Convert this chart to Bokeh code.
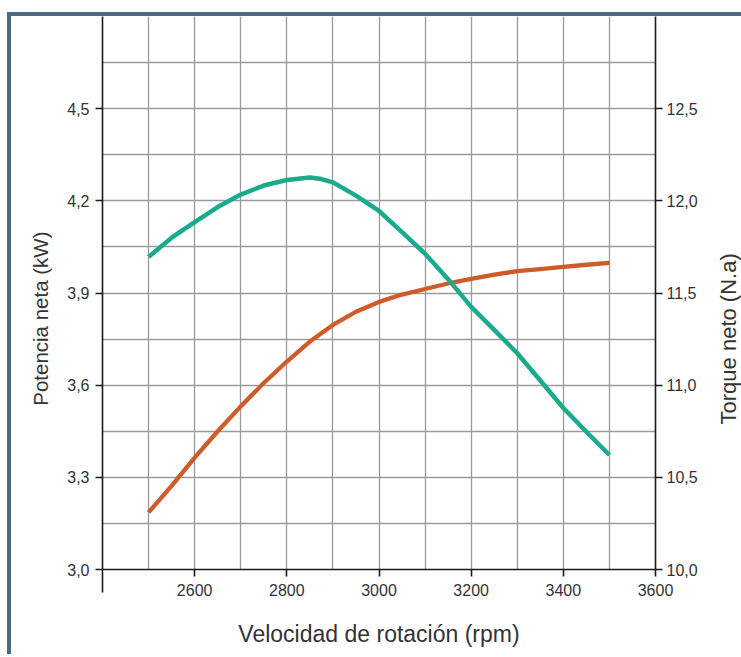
from bokeh.plotting import figure
from bokeh.models import Range1d, LinearAxis, FixedTicker, CustomJSTickFormatter, Row
from bokeh.embed import file_html
from bokeh.resources import INLINE

# ---- data ----
rpm_power = [2500, 2550, 2600, 2650, 2700, 2750, 2800, 2850, 2900, 2950, 3000, 3050, 3100,
             3150, 3200, 3250, 3300, 3350, 3400, 3450, 3500]
power_kw = [3.186, 3.272, 3.364, 3.45, 3.531, 3.607, 3.677, 3.742, 3.796, 3.839, 3.871, 3.895, 3.913,
            3.931, 3.946, 3.96, 3.971, 3.978, 3.985, 3.992, 3.998]

rpm_torque = [2500, 2550, 2600, 2650, 2700, 2750, 2800, 2850, 2875, 2900, 2950, 3000, 3050, 3100,
              3150, 3200, 3250, 3300, 3350, 3400, 3450, 3500]
torque_na = [11.696, 11.80, 11.885, 11.966, 12.034, 12.083, 12.113, 12.127, 12.118, 12.10, 12.028,
             11.945, 11.83, 11.713, 11.575, 11.425, 11.30, 11.173, 11.025, 10.876, 10.747, 10.621]

x_ticks = [2600, 2800, 3000, 3200, 3400, 3600]
x_grid = [2500, 2600, 2700, 2800, 2900, 3000, 3100, 3200, 3300, 3400, 3500]
left_ticks = [3.0, 3.3, 3.6, 3.9, 4.2, 4.5]
left_grid = [3.15, 3.3, 3.45, 3.6, 3.75, 3.9, 4.05, 4.2, 4.35, 4.5, 4.65]
right_ticks = [10.0, 10.5, 11.0, 11.5, 12.0, 12.5]

FONT = "Liberation Sans"
TXT = "#333333"
TEAL = "#19ab8c"
ORANGE = "#cf5a2a"
BORDER = "#4b6a82"
H = 638
TOP, BOTTOM = 0, 85
NBSP = "\u00a0"

p = figure(width=648, height=H, x_range=Range1d(2400, 3600), y_range=Range1d(3.0, 4.8),
           output_backend="svg", toolbar_location=None,
           min_border_left=50, min_border_right=43, min_border_top=TOP, min_border_bottom=BOTTOM)
p.extra_y_ranges = {"torque": Range1d(10.0, 13.0)}
p.outline_line_color = None
p.background_fill_color = "white"
p.border_fill_color = "white"

fmt = CustomJSTickFormatter(code="return tick.toFixed(1).replace('.', ',');")

# grids
p.xgrid.ticker = FixedTicker(ticks=x_grid)
p.ygrid.ticker = FixedTicker(ticks=left_grid)
for g in (p.xgrid, p.ygrid):
    g.grid_line_color = "#9a9a9a"
    g.grid_line_width = 1.3

def style_axis(ax):
    ax.axis_line_color = "#1a1a1a"
    ax.axis_line_width = 1.6
    ax.major_tick_line_color = "#1a1a1a"
    ax.major_tick_line_width = 1.6
    ax.minor_tick_line_color = "#1a1a1a"
    ax.minor_tick_line_width = 1.6
    ax.major_tick_in = 0
    ax.major_tick_out = 7
    ax.minor_tick_in = 0
    ax.minor_tick_out = 0
    ax.major_label_text_font = FONT
    ax.major_label_text_font_size = "16px"
    ax.major_label_text_color = TXT
    ax.axis_label_text_font = FONT
    ax.axis_label_text_font_size = "23px"
    ax.axis_label_text_font_style = "normal"
    ax.axis_label_text_color = TXT

xa = p.xaxis[0]
style_axis(xa)
xa.ticker = FixedTicker(ticks=x_ticks, minor_ticks=[2400])
xa.minor_tick_out = 23
xa.axis_label = "Velocidad de rotación (rpm)"
xa.major_label_standoff = -9
xa.axis_label_standoff = 22

ya = p.yaxis[0]
style_axis(ya)
ya.ticker = FixedTicker(ticks=left_ticks)
ya.formatter = fmt
ya.major_label_standoff = 6

ra = LinearAxis(y_range_name="torque")
style_axis(ra)
ra.ticker = FixedTicker(ticks=right_ticks)
ra.formatter = fmt
ra.major_label_standoff = 4
p.add_layout(ra, "right")

p.line(rpm_power, power_kw, line_color=ORANGE, line_width=4.3, line_join="round")
p.line(rpm_torque, torque_na, line_color=TEAL, line_width=4.5, line_join="round",
       y_range_name="torque")


def title_strip(text, width, size):
    """Narrow figure whose left-axis title reads bottom-to-top."""
    f = figure(width=width, height=H, x_range=Range1d(0, 1), y_range=Range1d(0, 1),
               output_backend="svg", toolbar_location=None,
               min_border_left=width - 1, min_border_right=0,
               min_border_top=TOP, min_border_bottom=BOTTOM)
    f.outline_line_color = None
    f.border_fill_color = "white"
    f.background_fill_color = "white"
    f.xaxis.visible = False
    f.grid.visible = False
    ax = f.yaxis[0]
    ax.ticker = FixedTicker(ticks=[])
    ax.axis_line_color = None
    ax.major_tick_line_color = None
    ax.minor_tick_line_color = None
    ax.major_label_text_font_size = "0px"
    ax.axis_label = text
    ax.axis_label_standoff = 0
    ax.axis_label_text_font = FONT
    ax.axis_label_text_font_size = size
    ax.axis_label_text_font_style = "normal"
    ax.axis_label_text_color = TXT
    return f


# trailing no-break spaces move the titles a little below the frame centre, as in the original
p0 = title_strip("Potencia neta (kW)" + NBSP * 9, 41, "20.5px")
p2 = title_strip("Torque neto (N.a)" + NBSP * 15, 41, "22px")

layout = Row(children=[p0, p, p2], spacing=0,
             styles={"border-left": f"4px solid {BORDER}", "border-top": f"4px solid {BORDER}",
                     "margin-top": "12px", "margin-left": "7px"})

open("out.html", "w").write(file_html(layout, INLINE))
